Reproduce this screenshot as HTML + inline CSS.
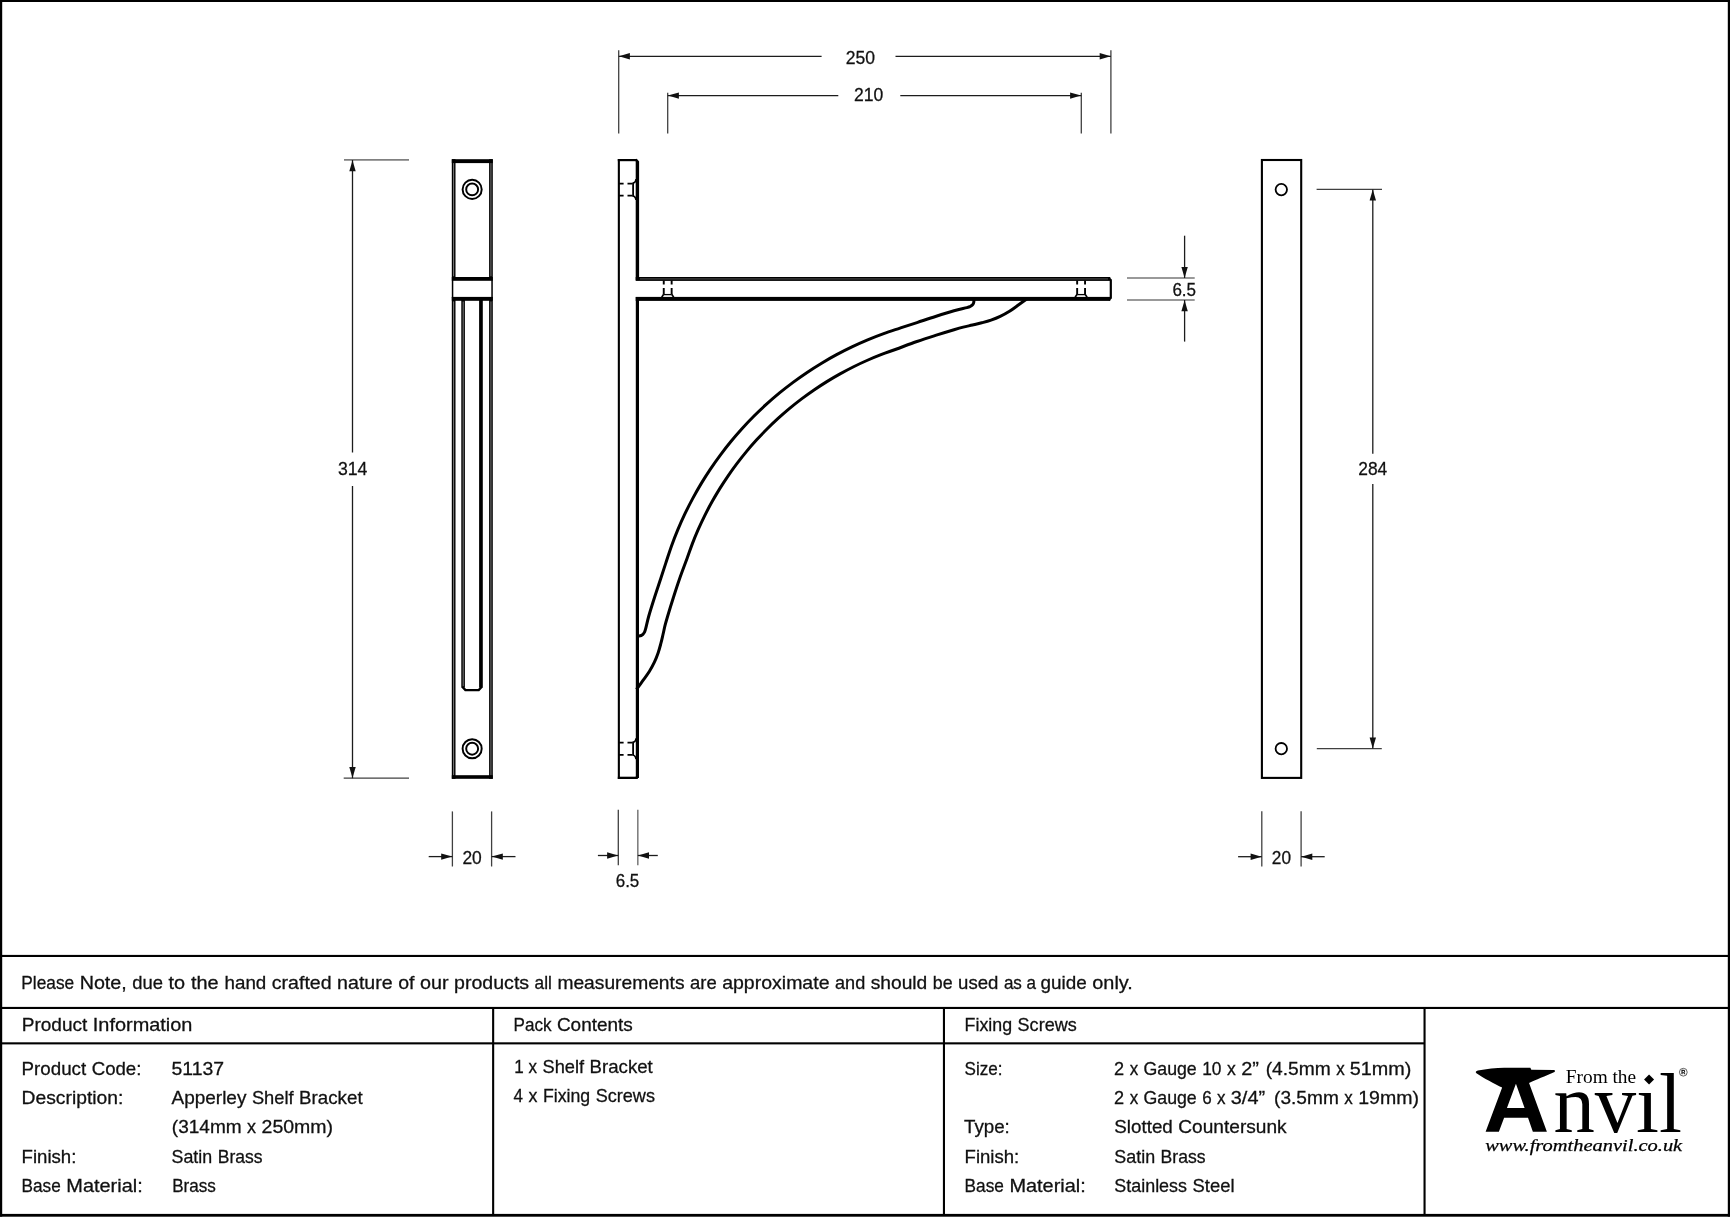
<!DOCTYPE html>
<html><head><meta charset="utf-8"><title>Apperley Shelf Bracket</title>
<style>html,body{margin:0;padding:0;background:#fff;}body{width:1730px;height:1219px;overflow:hidden;font-family:"Liberation Sans",sans-serif;}svg{display:block;will-change:transform;}</style>
</head><body>
<svg width="1730" height="1219" viewBox="0 0 1730 1219">
<rect x="0" y="0" width="1730" height="1219" fill="#ffffff"/>
<rect x="0" y="0" width="1730" height="2" fill="#000000"/>
<rect x="0" y="0" width="2.2" height="1216.6" fill="#000000"/>
<rect x="1727.8" y="0" width="2.2" height="1216.6" fill="#000000"/>
<rect x="0" y="1213.9" width="1730" height="2.8" fill="#000000"/>
<rect x="0" y="954.9" width="1730" height="2.1" fill="#000000"/>
<rect x="0" y="1006.9" width="1730" height="2.1" fill="#000000"/>
<rect x="0" y="1042.3" width="1424.6" height="2.1" fill="#000000"/>
<rect x="492.1" y="1007" width="2.1" height="208" fill="#000000"/>
<rect x="942.9" y="1007" width="2.1" height="208" fill="#000000"/>
<rect x="1423.5" y="1007" width="2.1" height="208" fill="#000000"/>
<rect x="451.8" y="159.2" width="41.0" height="3.9" fill="#000000"/>
<rect x="451.8" y="277.0" width="41.0" height="3.8" fill="#000000"/>
<rect x="451.8" y="296.9" width="41.0" height="3.9" fill="#000000"/>
<rect x="451.8" y="775.2" width="41.0" height="3.6" fill="#000000"/>
<rect x="451.8" y="159.2" width="3.7" height="120.80000000000001" fill="#000000"/>
<rect x="489.1" y="159.2" width="3.7" height="120.80000000000001" fill="#000000"/>
<rect x="453.2" y="163.1" width="0.9" height="113.20000000000002" fill="#8c8c8c"/>
<rect x="490.5" y="163.1" width="0.9" height="113.20000000000002" fill="#8c8c8c"/>
<rect x="451.8" y="297.5" width="3.7" height="481.29999999999995" fill="#000000"/>
<rect x="489.1" y="297.5" width="3.7" height="481.29999999999995" fill="#000000"/>
<rect x="453.2" y="301.4" width="0.9" height="473.69999999999993" fill="#8c8c8c"/>
<rect x="490.5" y="301.4" width="0.9" height="473.69999999999993" fill="#8c8c8c"/>
<rect x="451.8" y="280" width="1.5" height="18" fill="#000000"/>
<rect x="491.3" y="280" width="1.5" height="18" fill="#000000"/>
<rect x="461.3" y="300" width="3.6" height="387.6" fill="#000000"/>
<rect x="462.7" y="301.5" width="0.9" height="385" fill="#8c8c8c"/>
<rect x="479.1" y="300" width="3.7" height="387.6" fill="#000000"/>
<path d="M462.3,686.8 L465.4,690.1 L478.7,690.1 L481.8,686.8" fill="none" stroke="#000000" stroke-width="2.4" stroke-linejoin="miter"/>
<circle cx="472.15" cy="189.4" r="9.55" fill="none" stroke="#000000" stroke-width="1.95"/>
<circle cx="472.15" cy="189.4" r="5.95" fill="none" stroke="#000000" stroke-width="1.95"/>
<circle cx="472.15" cy="748.7" r="9.55" fill="none" stroke="#000000" stroke-width="1.95"/>
<circle cx="472.15" cy="748.7" r="5.95" fill="none" stroke="#000000" stroke-width="1.95"/>
<rect x="617.8" y="159.0" width="2.1" height="620.0" fill="#000000"/>
<rect x="617.8" y="159.0" width="19.0" height="2.2" fill="#000000"/>
<rect x="617.8" y="776.7" width="20.0" height="2.3" fill="#000000"/>
<path d="M636.3,160.1 L637.6,161.6" stroke="#000000" stroke-width="2.4" fill="none" stroke-linecap="round"/>
<rect x="635.7" y="161.2" width="3.4" height="119.0" fill="#000000"/>
<rect x="635.8" y="297.0" width="3.2" height="481.0" fill="#000000"/>
<path d="M637.6,776.3 L636.4,777.8" stroke="#000000" stroke-width="2.2" fill="none" stroke-linecap="round"/>
<rect x="635.7" y="277.0" width="474.6" height="3.9" fill="#000000"/>
<rect x="635.7" y="296.9" width="474.6" height="4.0" fill="#000000"/>
<path d="M1108.6,278.0 L1110.8,280.0 L1110.8,298.0 L1108.6,300.0" stroke="#000000" stroke-width="2.2" fill="none" stroke-linejoin="round"/>
<rect x="640" y="278.6" width="468" height="0.7" fill="#777"/>
<path d="M619.2,183.60 H623.6 M627.5,183.60 H632.4" stroke="#000000" stroke-width="1.75" fill="none"/>
<path d="M619.2,195.65 H623.6 M627.5,195.65 H632.4" stroke="#000000" stroke-width="1.75" fill="none"/>
<path d="M633.1,182.70 V196.50" stroke="#000000" stroke-width="1.8" fill="none"/>
<path d="M632.6,183.30 Q635.5,183.00 636.0,179.20 M632.6,195.90 Q635.5,196.20 636.0,200.00" stroke="#000000" stroke-width="1.6" fill="none"/>
<path d="M619.2,742.70 H623.6 M627.5,742.70 H632.4" stroke="#000000" stroke-width="1.75" fill="none"/>
<path d="M619.2,754.75 H623.6 M627.5,754.75 H632.4" stroke="#000000" stroke-width="1.75" fill="none"/>
<path d="M633.1,741.80 V755.60" stroke="#000000" stroke-width="1.8" fill="none"/>
<path d="M632.6,742.40 Q635.5,742.10 636.0,738.30 M632.6,755.00 Q635.5,755.30 636.0,759.10" stroke="#000000" stroke-width="1.6" fill="none"/>
<path d="M663.75,280.5 V284.6 M663.75,288.0 V294.6" stroke="#000000" stroke-width="1.9" fill="none"/>
<path d="M671.65,280.5 V284.6 M671.65,288.0 V294.6" stroke="#000000" stroke-width="1.9" fill="none"/>
<path d="M663.80,294.6 H671.60" stroke="#000000" stroke-width="1.3" fill="none"/>
<path d="M663.70,294.2 L661.70,297.2 M671.70,294.2 L673.70,297.2" stroke="#000000" stroke-width="1.6" fill="none"/>
<path d="M1077.15,280.5 V284.6 M1077.15,288.0 V294.6" stroke="#000000" stroke-width="1.9" fill="none"/>
<path d="M1085.05,280.5 V284.6 M1085.05,288.0 V294.6" stroke="#000000" stroke-width="1.9" fill="none"/>
<path d="M1077.20,294.6 H1085.00" stroke="#000000" stroke-width="1.3" fill="none"/>
<path d="M1077.10,294.2 L1075.10,297.2 M1085.10,294.2 L1087.10,297.2" stroke="#000000" stroke-width="1.6" fill="none"/>
<path d="M636.50,635.90 C636.93,635.90 638.32,635.97 639.10,635.90 C639.88,635.83 640.57,635.75 641.20,635.50 C641.83,635.25 642.35,634.95 642.90,634.40 C643.45,633.85 644.05,633.12 644.50,632.20 C644.95,631.28 644.88,631.60 645.60,628.90 C646.32,626.20 647.32,621.23 648.80,616.00 C650.28,610.77 652.53,603.67 654.50,597.50 C656.47,591.33 658.66,584.92 660.60,579.00 C662.54,573.08 664.31,567.55 666.14,562.00 C667.98,556.45 669.65,551.07 671.61,545.68 C673.56,540.29 675.64,534.94 677.85,529.65 C680.07,524.36 682.41,519.12 684.87,513.94 C687.34,508.77 689.94,503.65 692.65,498.60 C695.37,493.55 698.21,488.56 701.17,483.64 C704.12,478.73 707.20,473.89 710.40,469.12 C713.59,464.36 716.90,459.67 720.33,455.07 C723.75,450.47 727.28,445.95 730.92,441.52 C734.57,437.09 738.32,432.74 742.17,428.50 C746.02,424.25 749.98,420.09 754.04,416.04 C758.09,411.98 762.25,408.02 766.50,404.17 C770.74,400.32 775.09,396.57 779.52,392.92 C783.95,389.28 788.47,385.75 793.07,382.33 C797.67,378.90 802.36,375.59 807.12,372.40 C811.89,369.20 816.73,366.12 821.64,363.17 C826.56,360.21 831.55,357.37 836.60,354.65 C841.65,351.94 846.77,349.34 851.94,346.87 C857.12,344.41 862.36,342.07 867.65,339.85 C872.94,337.64 878.29,335.56 883.68,333.61 C889.07,331.65 894.45,329.98 900.00,328.14 C905.55,326.31 911.08,324.54 917.00,322.60 C922.92,320.66 929.33,318.47 935.50,316.50 C941.67,314.53 948.77,312.28 954.00,310.80 C959.23,309.32 964.20,308.32 966.90,307.60 C969.60,306.88 969.28,306.95 970.20,306.50 C971.12,306.05 971.85,305.45 972.40,304.90 C972.95,304.35 973.25,303.83 973.50,303.20 C973.75,302.57 973.83,301.88 973.90,301.10 C973.97,300.32 973.90,298.93 973.90,298.50" fill="none" stroke="#000000" stroke-width="3.0" stroke-linejoin="round"/>
<path d="M636.50,689.40 C637.55,687.95 640.67,683.68 642.80,680.70 C644.93,677.72 647.37,674.58 649.30,671.50 C651.23,668.42 652.93,665.28 654.40,662.20 C655.87,659.12 657.03,656.08 658.10,653.00 C659.17,649.92 659.98,646.78 660.80,643.70 C661.62,640.62 662.28,637.58 663.00,634.50 C663.72,631.42 664.32,628.28 665.10,625.20 C665.88,622.12 666.32,620.62 667.70,616.00 C669.08,611.38 671.43,603.67 673.40,597.50 C675.37,591.33 677.20,585.58 679.50,579.00 C681.80,572.42 685.07,563.90 687.22,558.00 C689.37,552.10 690.57,548.36 692.40,543.60 C694.24,538.84 696.19,534.13 698.25,529.46 C700.30,524.79 702.47,520.17 704.74,515.60 C707.01,511.04 709.39,506.52 711.87,502.06 C714.34,497.60 716.93,493.20 719.61,488.86 C722.29,484.53 725.08,480.25 727.96,476.04 C730.84,471.83 733.82,467.68 736.89,463.61 C739.96,459.54 743.13,455.54 746.39,451.61 C749.65,447.69 753.00,443.84 756.43,440.07 C759.87,436.30 763.40,432.61 767.00,429.00 C770.61,425.40 774.30,421.87 778.07,418.43 C781.84,415.00 785.69,411.65 789.61,408.39 C793.54,405.13 797.54,401.96 801.61,398.89 C805.68,395.82 809.83,392.84 814.04,389.96 C818.25,387.08 822.53,384.29 826.86,381.61 C831.20,378.93 835.60,376.34 840.06,373.87 C844.52,371.39 849.04,369.01 853.60,366.74 C858.17,364.47 862.79,362.30 867.46,360.25 C872.13,358.19 876.84,356.24 881.60,354.40 C886.36,352.57 890.10,351.37 896.00,349.22 C901.90,347.07 910.42,343.80 917.00,341.50 C923.58,339.20 929.33,337.37 935.50,335.40 C941.67,333.43 949.38,331.08 954.00,329.70 C958.62,328.32 960.12,327.88 963.20,327.10 C966.28,326.32 969.42,325.72 972.50,325.00 C975.58,324.28 978.62,323.62 981.70,322.80 C984.78,321.98 987.92,321.17 991.00,320.10 C994.08,319.03 997.12,317.87 1000.20,316.40 C1003.28,314.93 1006.42,313.23 1009.50,311.30 C1012.58,309.37 1015.72,306.93 1018.70,304.80 C1021.68,302.67 1025.95,299.55 1027.40,298.50" fill="none" stroke="#000000" stroke-width="3.0" stroke-linejoin="round"/>
<rect x="1261.9" y="160.0" width="39.3" height="617.9" fill="none" stroke="#000000" stroke-width="2.1"/>
<circle cx="1281.3" cy="189.6" r="5.7" fill="none" stroke="#000000" stroke-width="1.8"/>
<circle cx="1281.3" cy="748.7" r="5.7" fill="none" stroke="#000000" stroke-width="1.8"/>
<line x1="618.7" y1="50.3" x2="618.7" y2="133.5" stroke="#404040" stroke-width="1.3" />
<line x1="1110.9" y1="50.3" x2="1110.9" y2="133.5" stroke="#404040" stroke-width="1.3" />
<line x1="618.7" y1="56.3" x2="821.6" y2="56.3" stroke="#1c1c1c" stroke-width="1.3" />
<line x1="895.5" y1="56.3" x2="1110.9" y2="56.3" stroke="#1c1c1c" stroke-width="1.3" />
<polygon points="618.90,56.30 629.90,53.10 629.90,59.50" fill="#111"/>
<polygon points="1110.70,56.30 1099.70,53.10 1099.70,59.50" fill="#111"/>
<line x1="667.7" y1="92.7" x2="667.7" y2="133.5" stroke="#404040" stroke-width="1.3" />
<line x1="1081.3" y1="92.7" x2="1081.3" y2="133.5" stroke="#404040" stroke-width="1.3" />
<line x1="667.7" y1="95.6" x2="838.3" y2="95.6" stroke="#1c1c1c" stroke-width="1.3" />
<line x1="900.3" y1="95.6" x2="1081.3" y2="95.6" stroke="#1c1c1c" stroke-width="1.3" />
<polygon points="667.90,95.60 678.90,92.40 678.90,98.80" fill="#111"/>
<polygon points="1081.10,95.60 1070.10,92.40 1070.10,98.80" fill="#111"/>
<line x1="344.0" y1="159.85" x2="409.0" y2="159.85" stroke="#808080" stroke-width="1.9" />
<line x1="343.7" y1="778.2" x2="409.0" y2="778.2" stroke="#404040" stroke-width="1.3" />
<line x1="352.5" y1="160.0" x2="352.5" y2="452.4" stroke="#1c1c1c" stroke-width="1.3" />
<line x1="352.5" y1="486.0" x2="352.5" y2="778.2" stroke="#1c1c1c" stroke-width="1.3" />
<polygon points="352.50,160.20 349.30,171.20 355.70,171.20" fill="#111"/>
<polygon points="352.50,778.00 349.30,767.00 355.70,767.00" fill="#111"/>
<line x1="1316.6" y1="189.4" x2="1382.0" y2="189.4" stroke="#404040" stroke-width="1.3" />
<line x1="1316.8" y1="748.6" x2="1381.8" y2="748.6" stroke="#404040" stroke-width="1.3" />
<line x1="1372.8" y1="189.4" x2="1372.8" y2="453.8" stroke="#1c1c1c" stroke-width="1.3" />
<line x1="1372.8" y1="484.1" x2="1372.8" y2="748.6" stroke="#1c1c1c" stroke-width="1.3" />
<polygon points="1372.80,189.60 1369.60,200.60 1376.00,200.60" fill="#111"/>
<polygon points="1372.80,748.40 1369.60,737.40 1376.00,737.40" fill="#111"/>
<line x1="1127.0" y1="278.1" x2="1194.7" y2="278.1" stroke="#777" stroke-width="1.5" />
<line x1="1127.0" y1="300.0" x2="1194.7" y2="300.0" stroke="#777" stroke-width="1.5" />
<line x1="1184.6" y1="235.7" x2="1184.6" y2="278.0" stroke="#1c1c1c" stroke-width="1.3" />
<line x1="1184.6" y1="300.0" x2="1184.6" y2="341.6" stroke="#1c1c1c" stroke-width="1.3" />
<polygon points="1184.60,277.90 1181.40,266.90 1187.80,266.90" fill="#111"/>
<polygon points="1184.60,300.20 1181.40,311.20 1187.80,311.20" fill="#111"/>
<line x1="452.4" y1="811.4" x2="452.4" y2="866.5" stroke="#404040" stroke-width="1.3" />
<line x1="491.6" y1="811.4" x2="491.6" y2="866.5" stroke="#404040" stroke-width="1.3" />
<line x1="428.7" y1="856.6" x2="452.4" y2="856.6" stroke="#1c1c1c" stroke-width="1.3" />
<line x1="491.6" y1="856.6" x2="515.5" y2="856.6" stroke="#1c1c1c" stroke-width="1.3" />
<polygon points="452.20,856.60 441.20,853.40 441.20,859.80" fill="#111"/>
<polygon points="491.80,856.60 502.80,853.40 502.80,859.80" fill="#111"/>
<line x1="618.3" y1="809.8" x2="618.3" y2="865.2" stroke="#404040" stroke-width="1.3" />
<line x1="637.8" y1="809.8" x2="637.8" y2="865.2" stroke="#808080" stroke-width="1.6" />
<line x1="597.9" y1="855.5" x2="618.3" y2="855.5" stroke="#1c1c1c" stroke-width="1.3" />
<line x1="637.8" y1="855.5" x2="657.8" y2="855.5" stroke="#1c1c1c" stroke-width="1.3" />
<polygon points="618.10,855.50 607.10,852.30 607.10,858.70" fill="#111"/>
<polygon points="638.00,855.50 649.00,852.30 649.00,858.70" fill="#111"/>
<line x1="1261.8" y1="811.2" x2="1261.8" y2="866.5" stroke="#404040" stroke-width="1.3" />
<line x1="1301.1" y1="811.2" x2="1301.1" y2="866.5" stroke="#404040" stroke-width="1.3" />
<line x1="1238.1" y1="856.7" x2="1261.8" y2="856.7" stroke="#1c1c1c" stroke-width="1.3" />
<line x1="1301.1" y1="856.7" x2="1324.7" y2="856.7" stroke="#1c1c1c" stroke-width="1.3" />
<polygon points="1261.60,856.70 1250.60,853.50 1250.60,859.90" fill="#111"/>
<polygon points="1301.30,856.70 1312.30,853.50 1312.30,859.90" fill="#111"/>
<text x="845.8" y="64.2" font-family="'Liberation Sans', sans-serif" font-size="18.5" fill="#111" text-anchor="start" textLength="29.3" lengthAdjust="spacingAndGlyphs"  stroke="#111" stroke-width="0.28">250</text>
<text x="854.1" y="101.1" font-family="'Liberation Sans', sans-serif" font-size="18.5" fill="#111" text-anchor="start" textLength="29.3" lengthAdjust="spacingAndGlyphs"  stroke="#111" stroke-width="0.28">210</text>
<text x="337.9" y="474.9" font-family="'Liberation Sans', sans-serif" font-size="18.5" fill="#111" text-anchor="start" textLength="29.5" lengthAdjust="spacingAndGlyphs"  stroke="#111" stroke-width="0.28">314</text>
<text x="1358.3" y="474.8" font-family="'Liberation Sans', sans-serif" font-size="18.5" fill="#111" text-anchor="start" textLength="29.0" lengthAdjust="spacingAndGlyphs"  stroke="#111" stroke-width="0.28">284</text>
<text x="1172.4" y="295.8" font-family="'Liberation Sans', sans-serif" font-size="18.5" fill="#111" text-anchor="start" textLength="23.7" lengthAdjust="spacingAndGlyphs"  stroke="#111" stroke-width="0.28">6.5</text>
<text x="462.4" y="863.6" font-family="'Liberation Sans', sans-serif" font-size="18.5" fill="#111" text-anchor="start" textLength="19.4" lengthAdjust="spacingAndGlyphs"  stroke="#111" stroke-width="0.28">20</text>
<text x="615.7" y="887.1" font-family="'Liberation Sans', sans-serif" font-size="18.5" fill="#111" text-anchor="start" textLength="23.6" lengthAdjust="spacingAndGlyphs"  stroke="#111" stroke-width="0.28">6.5</text>
<text x="1271.8" y="863.6" font-family="'Liberation Sans', sans-serif" font-size="18.5" fill="#111" text-anchor="start" textLength="19.2" lengthAdjust="spacingAndGlyphs"  stroke="#111" stroke-width="0.28">20</text>
<text x="21.3" y="988.7" font-family="'Liberation Sans', sans-serif" font-size="17.7" fill="#111" text-anchor="start" textLength="52.9" lengthAdjust="spacingAndGlyphs"  stroke="#111" stroke-width="0.28">Please</text>
<text x="79.7" y="988.7" font-family="'Liberation Sans', sans-serif" font-size="17.7" fill="#111" text-anchor="start" textLength="47.1" lengthAdjust="spacingAndGlyphs"  stroke="#111" stroke-width="0.28">Note,</text>
<text x="132.3" y="988.7" font-family="'Liberation Sans', sans-serif" font-size="17.7" fill="#111" text-anchor="start" textLength="30.7" lengthAdjust="spacingAndGlyphs"  stroke="#111" stroke-width="0.28">due</text>
<text x="168.5" y="988.7" font-family="'Liberation Sans', sans-serif" font-size="17.7" fill="#111" text-anchor="start" textLength="16.6" lengthAdjust="spacingAndGlyphs"  stroke="#111" stroke-width="0.28">to</text>
<text x="191.0" y="988.7" font-family="'Liberation Sans', sans-serif" font-size="17.7" fill="#111" text-anchor="start" textLength="27.7" lengthAdjust="spacingAndGlyphs"  stroke="#111" stroke-width="0.28">the</text>
<text x="224.5" y="988.7" font-family="'Liberation Sans', sans-serif" font-size="17.7" fill="#111" text-anchor="start" textLength="41.8" lengthAdjust="spacingAndGlyphs"  stroke="#111" stroke-width="0.28">hand</text>
<text x="271.8" y="988.7" font-family="'Liberation Sans', sans-serif" font-size="17.7" fill="#111" text-anchor="start" textLength="59.8" lengthAdjust="spacingAndGlyphs"  stroke="#111" stroke-width="0.28">crafted</text>
<text x="337.1" y="988.7" font-family="'Liberation Sans', sans-serif" font-size="17.7" fill="#111" text-anchor="start" textLength="55.6" lengthAdjust="spacingAndGlyphs"  stroke="#111" stroke-width="0.28">nature</text>
<text x="398.2" y="988.7" font-family="'Liberation Sans', sans-serif" font-size="17.7" fill="#111" text-anchor="start" textLength="16.3" lengthAdjust="spacingAndGlyphs"  stroke="#111" stroke-width="0.28">of</text>
<text x="420.0" y="988.7" font-family="'Liberation Sans', sans-serif" font-size="17.7" fill="#111" text-anchor="start" textLength="28.6" lengthAdjust="spacingAndGlyphs"  stroke="#111" stroke-width="0.28">our</text>
<text x="454.1" y="988.7" font-family="'Liberation Sans', sans-serif" font-size="17.7" fill="#111" text-anchor="start" textLength="75.0" lengthAdjust="spacingAndGlyphs"  stroke="#111" stroke-width="0.28">products</text>
<text x="534.6" y="988.7" font-family="'Liberation Sans', sans-serif" font-size="17.7" fill="#111" text-anchor="start" textLength="17.3" lengthAdjust="spacingAndGlyphs"  stroke="#111" stroke-width="0.28">all</text>
<text x="557.4" y="988.7" font-family="'Liberation Sans', sans-serif" font-size="17.7" fill="#111" text-anchor="start" textLength="127.1" lengthAdjust="spacingAndGlyphs"  stroke="#111" stroke-width="0.28">measurements</text>
<text x="690.0" y="988.7" font-family="'Liberation Sans', sans-serif" font-size="17.7" fill="#111" text-anchor="start" textLength="26.7" lengthAdjust="spacingAndGlyphs"  stroke="#111" stroke-width="0.28">are</text>
<text x="722.2" y="988.7" font-family="'Liberation Sans', sans-serif" font-size="17.7" fill="#111" text-anchor="start" textLength="107.3" lengthAdjust="spacingAndGlyphs"  stroke="#111" stroke-width="0.28">approximate</text>
<text x="835.0" y="988.7" font-family="'Liberation Sans', sans-serif" font-size="17.7" fill="#111" text-anchor="start" textLength="30.2" lengthAdjust="spacingAndGlyphs"  stroke="#111" stroke-width="0.28">and</text>
<text x="870.7" y="988.7" font-family="'Liberation Sans', sans-serif" font-size="17.7" fill="#111" text-anchor="start" textLength="56.6" lengthAdjust="spacingAndGlyphs"  stroke="#111" stroke-width="0.28">should</text>
<text x="932.8" y="988.7" font-family="'Liberation Sans', sans-serif" font-size="17.7" fill="#111" text-anchor="start" textLength="19.8" lengthAdjust="spacingAndGlyphs"  stroke="#111" stroke-width="0.28">be</text>
<text x="958.1" y="988.7" font-family="'Liberation Sans', sans-serif" font-size="17.7" fill="#111" text-anchor="start" textLength="40.3" lengthAdjust="spacingAndGlyphs"  stroke="#111" stroke-width="0.28">used</text>
<text x="1003.9" y="988.7" font-family="'Liberation Sans', sans-serif" font-size="17.7" fill="#111" text-anchor="start" textLength="18.0" lengthAdjust="spacingAndGlyphs"  stroke="#111" stroke-width="0.28">as</text>
<text x="1026.4" y="988.7" font-family="'Liberation Sans', sans-serif" font-size="17.7" fill="#111" text-anchor="start" textLength="9.5" lengthAdjust="spacingAndGlyphs"  stroke="#111" stroke-width="0.28">a</text>
<text x="1040.6" y="988.7" font-family="'Liberation Sans', sans-serif" font-size="17.7" fill="#111" text-anchor="start" textLength="46.2" lengthAdjust="spacingAndGlyphs"  stroke="#111" stroke-width="0.28">guide</text>
<text x="1092.3" y="988.7" font-family="'Liberation Sans', sans-serif" font-size="17.7" fill="#111" text-anchor="start" textLength="40.6" lengthAdjust="spacingAndGlyphs"  stroke="#111" stroke-width="0.28">only.</text>
<text x="21.7" y="1030.7" font-family="'Liberation Sans', sans-serif" font-size="17.7" fill="#111" text-anchor="start" textLength="65.6" lengthAdjust="spacingAndGlyphs"  stroke="#111" stroke-width="0.28">Product</text>
<text x="92.8" y="1030.7" font-family="'Liberation Sans', sans-serif" font-size="17.7" fill="#111" text-anchor="start" textLength="99.6" lengthAdjust="spacingAndGlyphs"  stroke="#111" stroke-width="0.28">Information</text>
<text x="513.6" y="1030.6" font-family="'Liberation Sans', sans-serif" font-size="17.7" fill="#111" text-anchor="start" textLength="38.0" lengthAdjust="spacingAndGlyphs"  stroke="#111" stroke-width="0.28">Pack</text>
<text x="556.9" y="1030.6" font-family="'Liberation Sans', sans-serif" font-size="17.7" fill="#111" text-anchor="start" textLength="75.9" lengthAdjust="spacingAndGlyphs"  stroke="#111" stroke-width="0.28">Contents</text>
<text x="964.6" y="1030.7" font-family="'Liberation Sans', sans-serif" font-size="17.7" fill="#111" text-anchor="start" textLength="47.5" lengthAdjust="spacingAndGlyphs"  stroke="#111" stroke-width="0.28">Fixing</text>
<text x="1017.6" y="1030.7" font-family="'Liberation Sans', sans-serif" font-size="17.7" fill="#111" text-anchor="start" textLength="59.1" lengthAdjust="spacingAndGlyphs"  stroke="#111" stroke-width="0.28">Screws</text>
<text x="21.6" y="1074.8" font-family="'Liberation Sans', sans-serif" font-size="17.7" fill="#111" text-anchor="start" textLength="64.6" lengthAdjust="spacingAndGlyphs"  stroke="#111" stroke-width="0.28">Product</text>
<text x="91.7" y="1074.8" font-family="'Liberation Sans', sans-serif" font-size="17.7" fill="#111" text-anchor="start" textLength="49.7" lengthAdjust="spacingAndGlyphs"  stroke="#111" stroke-width="0.28">Code:</text>
<text x="171.5" y="1074.8" font-family="'Liberation Sans', sans-serif" font-size="17.7" fill="#111" text-anchor="start" textLength="52.5" lengthAdjust="spacingAndGlyphs"  stroke="#111" stroke-width="0.28">51137</text>
<text x="21.6" y="1104.1" font-family="'Liberation Sans', sans-serif" font-size="17.7" fill="#111" text-anchor="start" textLength="101.7" lengthAdjust="spacingAndGlyphs"  stroke="#111" stroke-width="0.28">Description:</text>
<text x="171.5" y="1104.1" font-family="'Liberation Sans', sans-serif" font-size="17.7" fill="#111" text-anchor="start" textLength="74.9" lengthAdjust="spacingAndGlyphs"  stroke="#111" stroke-width="0.28">Apperley</text>
<text x="251.9" y="1104.1" font-family="'Liberation Sans', sans-serif" font-size="17.7" fill="#111" text-anchor="start" textLength="41.7" lengthAdjust="spacingAndGlyphs"  stroke="#111" stroke-width="0.28">Shelf</text>
<text x="299.1" y="1104.1" font-family="'Liberation Sans', sans-serif" font-size="17.7" fill="#111" text-anchor="start" textLength="63.5" lengthAdjust="spacingAndGlyphs"  stroke="#111" stroke-width="0.28">Bracket</text>
<text x="171.8" y="1133.3" font-family="'Liberation Sans', sans-serif" font-size="17.7" fill="#111" text-anchor="start" textLength="69.8" lengthAdjust="spacingAndGlyphs"  stroke="#111" stroke-width="0.28">(314mm</text>
<text x="247.1" y="1133.3" font-family="'Liberation Sans', sans-serif" font-size="17.7" fill="#111" text-anchor="start" textLength="9.0" lengthAdjust="spacingAndGlyphs"  stroke="#111" stroke-width="0.28">x</text>
<text x="261.6" y="1133.3" font-family="'Liberation Sans', sans-serif" font-size="17.7" fill="#111" text-anchor="start" textLength="71.5" lengthAdjust="spacingAndGlyphs"  stroke="#111" stroke-width="0.28">250mm)</text>
<text x="21.6" y="1162.5" font-family="'Liberation Sans', sans-serif" font-size="17.7" fill="#111" text-anchor="start" textLength="54.8" lengthAdjust="spacingAndGlyphs"  stroke="#111" stroke-width="0.28">Finish:</text>
<text x="171.5" y="1162.5" font-family="'Liberation Sans', sans-serif" font-size="17.7" fill="#111" text-anchor="start" textLength="40.7" lengthAdjust="spacingAndGlyphs"  stroke="#111" stroke-width="0.28">Satin</text>
<text x="217.7" y="1162.5" font-family="'Liberation Sans', sans-serif" font-size="17.7" fill="#111" text-anchor="start" textLength="44.8" lengthAdjust="spacingAndGlyphs"  stroke="#111" stroke-width="0.28">Brass</text>
<text x="21.6" y="1191.7" font-family="'Liberation Sans', sans-serif" font-size="17.7" fill="#111" text-anchor="start" textLength="39.2" lengthAdjust="spacingAndGlyphs"  stroke="#111" stroke-width="0.28">Base</text>
<text x="66.3" y="1191.7" font-family="'Liberation Sans', sans-serif" font-size="17.7" fill="#111" text-anchor="start" textLength="76.4" lengthAdjust="spacingAndGlyphs"  stroke="#111" stroke-width="0.28">Material:</text>
<text x="172.2" y="1191.7" font-family="'Liberation Sans', sans-serif" font-size="17.7" fill="#111" text-anchor="start" textLength="43.7" lengthAdjust="spacingAndGlyphs"  stroke="#111" stroke-width="0.28">Brass</text>
<text x="514.2" y="1072.7" font-family="'Liberation Sans', sans-serif" font-size="17.7" fill="#111" text-anchor="start" textLength="9.5" lengthAdjust="spacingAndGlyphs"  stroke="#111" stroke-width="0.28">1</text>
<text x="528.6" y="1072.7" font-family="'Liberation Sans', sans-serif" font-size="17.7" fill="#111" text-anchor="start" textLength="8.5" lengthAdjust="spacingAndGlyphs"  stroke="#111" stroke-width="0.28">x</text>
<text x="542.5" y="1072.7" font-family="'Liberation Sans', sans-serif" font-size="17.7" fill="#111" text-anchor="start" textLength="41.6" lengthAdjust="spacingAndGlyphs"  stroke="#111" stroke-width="0.28">Shelf</text>
<text x="589.6" y="1072.7" font-family="'Liberation Sans', sans-serif" font-size="17.7" fill="#111" text-anchor="start" textLength="63.2" lengthAdjust="spacingAndGlyphs"  stroke="#111" stroke-width="0.28">Bracket</text>
<text x="513.6" y="1101.9" font-family="'Liberation Sans', sans-serif" font-size="17.7" fill="#111" text-anchor="start" textLength="9.5" lengthAdjust="spacingAndGlyphs"  stroke="#111" stroke-width="0.28">4</text>
<text x="528.6" y="1101.9" font-family="'Liberation Sans', sans-serif" font-size="17.7" fill="#111" text-anchor="start" textLength="8.9" lengthAdjust="spacingAndGlyphs"  stroke="#111" stroke-width="0.28">x</text>
<text x="543.0" y="1101.9" font-family="'Liberation Sans', sans-serif" font-size="17.7" fill="#111" text-anchor="start" textLength="47.2" lengthAdjust="spacingAndGlyphs"  stroke="#111" stroke-width="0.28">Fixing</text>
<text x="595.7" y="1101.9" font-family="'Liberation Sans', sans-serif" font-size="17.7" fill="#111" text-anchor="start" textLength="59.3" lengthAdjust="spacingAndGlyphs"  stroke="#111" stroke-width="0.28">Screws</text>
<text x="964.6" y="1075.1" font-family="'Liberation Sans', sans-serif" font-size="17.7" fill="#111" text-anchor="start" textLength="38.0" lengthAdjust="spacingAndGlyphs"  stroke="#111" stroke-width="0.28">Size:</text>
<text x="1114.1" y="1075.1" font-family="'Liberation Sans', sans-serif" font-size="17.7" fill="#111" text-anchor="start" textLength="10.1" lengthAdjust="spacingAndGlyphs"  stroke="#111" stroke-width="0.28">2</text>
<text x="1129.7" y="1075.1" font-family="'Liberation Sans', sans-serif" font-size="17.7" fill="#111" text-anchor="start" textLength="8.5" lengthAdjust="spacingAndGlyphs"  stroke="#111" stroke-width="0.28">x</text>
<text x="1143.5" y="1075.1" font-family="'Liberation Sans', sans-serif" font-size="17.7" fill="#111" text-anchor="start" textLength="53.2" lengthAdjust="spacingAndGlyphs"  stroke="#111" stroke-width="0.28">Gauge</text>
<text x="1202.2" y="1075.1" font-family="'Liberation Sans', sans-serif" font-size="17.7" fill="#111" text-anchor="start" textLength="19.3" lengthAdjust="spacingAndGlyphs"  stroke="#111" stroke-width="0.28">10</text>
<text x="1227.0" y="1075.1" font-family="'Liberation Sans', sans-serif" font-size="17.7" fill="#111" text-anchor="start" textLength="8.8" lengthAdjust="spacingAndGlyphs"  stroke="#111" stroke-width="0.28">x</text>
<text x="1241.3" y="1075.1" font-family="'Liberation Sans', sans-serif" font-size="17.7" fill="#111" text-anchor="start" textLength="17.7" lengthAdjust="spacingAndGlyphs"  stroke="#111" stroke-width="0.28">2”</text>
<text x="1265.7" y="1075.1" font-family="'Liberation Sans', sans-serif" font-size="17.7" fill="#111" text-anchor="start" textLength="65.1" lengthAdjust="spacingAndGlyphs"  stroke="#111" stroke-width="0.28">(4.5mm</text>
<text x="1336.3" y="1075.1" font-family="'Liberation Sans', sans-serif" font-size="17.7" fill="#111" text-anchor="start" textLength="8.5" lengthAdjust="spacingAndGlyphs"  stroke="#111" stroke-width="0.28">x</text>
<text x="1349.7" y="1075.1" font-family="'Liberation Sans', sans-serif" font-size="17.7" fill="#111" text-anchor="start" textLength="61.6" lengthAdjust="spacingAndGlyphs"  stroke="#111" stroke-width="0.28">51mm)</text>
<text x="1114.1" y="1104.2" font-family="'Liberation Sans', sans-serif" font-size="17.7" fill="#111" text-anchor="start" textLength="10.1" lengthAdjust="spacingAndGlyphs"  stroke="#111" stroke-width="0.28">2</text>
<text x="1129.7" y="1104.2" font-family="'Liberation Sans', sans-serif" font-size="17.7" fill="#111" text-anchor="start" textLength="8.5" lengthAdjust="spacingAndGlyphs"  stroke="#111" stroke-width="0.28">x</text>
<text x="1143.5" y="1104.2" font-family="'Liberation Sans', sans-serif" font-size="17.7" fill="#111" text-anchor="start" textLength="53.2" lengthAdjust="spacingAndGlyphs"  stroke="#111" stroke-width="0.28">Gauge</text>
<text x="1202.2" y="1104.2" font-family="'Liberation Sans', sans-serif" font-size="17.7" fill="#111" text-anchor="start" textLength="9.5" lengthAdjust="spacingAndGlyphs"  stroke="#111" stroke-width="0.28">6</text>
<text x="1216.9" y="1104.2" font-family="'Liberation Sans', sans-serif" font-size="17.7" fill="#111" text-anchor="start" textLength="8.5" lengthAdjust="spacingAndGlyphs"  stroke="#111" stroke-width="0.28">x</text>
<text x="1230.8" y="1104.2" font-family="'Liberation Sans', sans-serif" font-size="17.7" fill="#111" text-anchor="start" textLength="34.3" lengthAdjust="spacingAndGlyphs"  stroke="#111" stroke-width="0.28">3/4”</text>
<text x="1274.1" y="1104.2" font-family="'Liberation Sans', sans-serif" font-size="17.7" fill="#111" text-anchor="start" textLength="64.7" lengthAdjust="spacingAndGlyphs"  stroke="#111" stroke-width="0.28">(3.5mm</text>
<text x="1344.3" y="1104.2" font-family="'Liberation Sans', sans-serif" font-size="17.7" fill="#111" text-anchor="start" textLength="8.5" lengthAdjust="spacingAndGlyphs"  stroke="#111" stroke-width="0.28">x</text>
<text x="1358.2" y="1104.2" font-family="'Liberation Sans', sans-serif" font-size="17.7" fill="#111" text-anchor="start" textLength="60.8" lengthAdjust="spacingAndGlyphs"  stroke="#111" stroke-width="0.28">19mm)</text>
<text x="964.0" y="1133.3" font-family="'Liberation Sans', sans-serif" font-size="17.7" fill="#111" text-anchor="start" textLength="45.8" lengthAdjust="spacingAndGlyphs"  stroke="#111" stroke-width="0.28">Type:</text>
<text x="1114.3" y="1133.3" font-family="'Liberation Sans', sans-serif" font-size="17.7" fill="#111" text-anchor="start" textLength="58.5" lengthAdjust="spacingAndGlyphs"  stroke="#111" stroke-width="0.28">Slotted</text>
<text x="1178.3" y="1133.3" font-family="'Liberation Sans', sans-serif" font-size="17.7" fill="#111" text-anchor="start" textLength="108.3" lengthAdjust="spacingAndGlyphs"  stroke="#111" stroke-width="0.28">Countersunk</text>
<text x="964.6" y="1162.6" font-family="'Liberation Sans', sans-serif" font-size="17.7" fill="#111" text-anchor="start" textLength="54.6" lengthAdjust="spacingAndGlyphs"  stroke="#111" stroke-width="0.28">Finish:</text>
<text x="1114.3" y="1162.6" font-family="'Liberation Sans', sans-serif" font-size="17.7" fill="#111" text-anchor="start" textLength="40.8" lengthAdjust="spacingAndGlyphs"  stroke="#111" stroke-width="0.28">Satin</text>
<text x="1160.6" y="1162.6" font-family="'Liberation Sans', sans-serif" font-size="17.7" fill="#111" text-anchor="start" textLength="45.0" lengthAdjust="spacingAndGlyphs"  stroke="#111" stroke-width="0.28">Brass</text>
<text x="964.6" y="1192.0" font-family="'Liberation Sans', sans-serif" font-size="17.7" fill="#111" text-anchor="start" textLength="39.3" lengthAdjust="spacingAndGlyphs"  stroke="#111" stroke-width="0.28">Base</text>
<text x="1009.4" y="1192.0" font-family="'Liberation Sans', sans-serif" font-size="17.7" fill="#111" text-anchor="start" textLength="76.4" lengthAdjust="spacingAndGlyphs"  stroke="#111" stroke-width="0.28">Material:</text>
<text x="1114.3" y="1192.0" font-family="'Liberation Sans', sans-serif" font-size="17.7" fill="#111" text-anchor="start" textLength="72.7" lengthAdjust="spacingAndGlyphs"  stroke="#111" stroke-width="0.28">Stainless</text>
<text x="1192.5" y="1192.0" font-family="'Liberation Sans', sans-serif" font-size="17.7" fill="#111" text-anchor="start" textLength="42.0" lengthAdjust="spacingAndGlyphs"  stroke="#111" stroke-width="0.28">Steel</text>
<path d="M1475.77,1072.34 Q1475.51,1071.02 1477.87,1070.50 C1486.40,1068.86 1496.25,1067.87 1504.12,1067.74 L1530.37,1067.74 L1531.29,1069.84 L1553.99,1070.10 Q1555.63,1070.37 1554.51,1071.94 C1545.46,1076.08 1535.62,1079.69 1529.06,1082.97 L1546.90,1131.65 L1532.86,1131.65 L1528.01,1117.87 L1504.12,1117.87 L1498.87,1131.65 L1485.62,1131.65 L1502.15,1087.56 C1494.93,1084.28 1483.12,1077.72 1476.43,1073.25 Z M1515.93,1083.75 L1524.59,1107.90 L1506.94,1107.90 Z" fill="#000" fill-rule="evenodd"/>
<text x="1553.4" y="1131.7" font-family="'Liberation Serif', serif" font-size="84" fill="#000" text-anchor="start" textLength="128.6" lengthAdjust="spacingAndGlyphs" >nvıl</text>
<path d="M1649.06,1074.45 L1654.06,1079.45 L1649.06,1084.45 L1644.06,1079.45 Z" fill="#000"/>
<text x="1565.8" y="1082.6" font-family="'Liberation Serif', serif" font-size="18.6" fill="#000" text-anchor="start" textLength="70.3" lengthAdjust="spacingAndGlyphs" >From the</text>
<circle cx="1683.3" cy="1072.2" r="3.9" fill="none" stroke="#222" stroke-width="0.7"/>
<text x="1683.3" y="1074.3" font-family="'Liberation Sans', sans-serif" font-size="5.6" fill="#111" text-anchor="middle" font-weight="bold" stroke="#111" stroke-width="0.28">R</text>
<text x="1485.2" y="1151.4" font-family="'Liberation Serif', serif" font-size="16.8" fill="#000" text-anchor="start" textLength="197.0" lengthAdjust="spacingAndGlyphs" font-style="italic" stroke="#000" stroke-width="0.25">www.fromtheanvil.co.uk</text>
</svg>
</body></html>
